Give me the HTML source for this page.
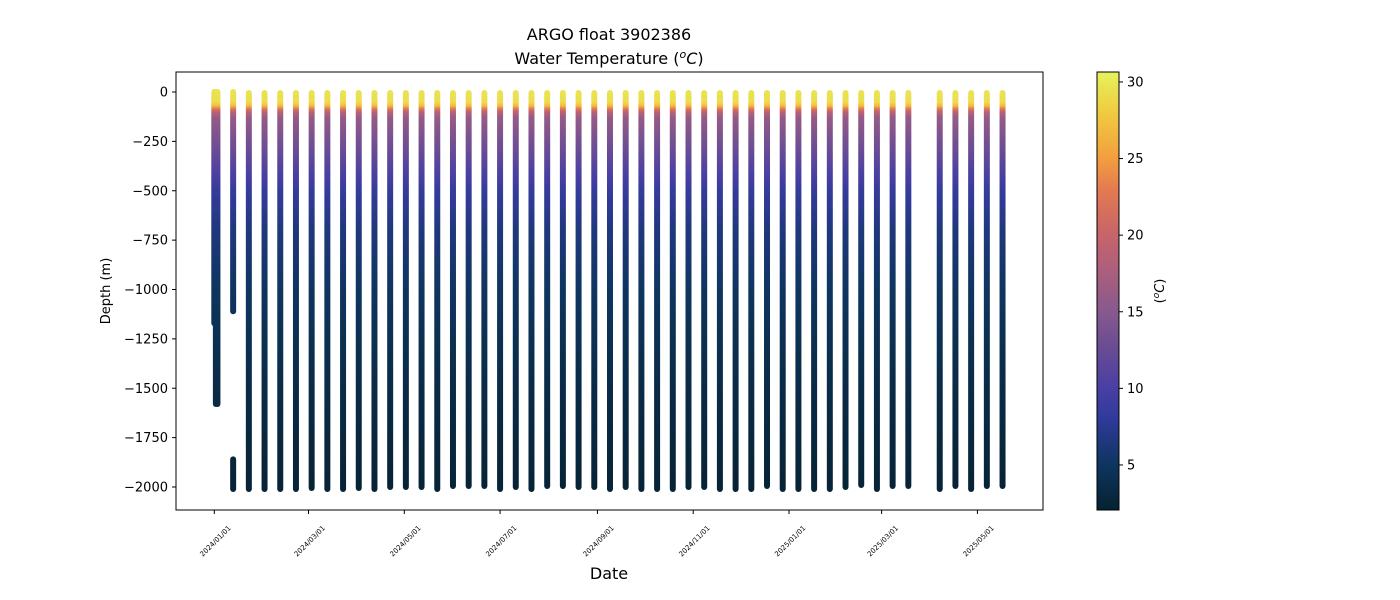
<!DOCTYPE html>
<html><head><meta charset="utf-8"><style>
body{margin:0;background:#fff;}
svg{display:block;font-family:"DejaVu Sans","Liberation Sans",sans-serif;}
</style></head><body>
<svg id="chart" width="1400" height="600" viewBox="0 0 1400 600">
<defs id="defs"></defs>
<text x="609" y="40" text-anchor="middle" font-size="16">ARGO float 3902386</text>
<text x="609" y="64" text-anchor="middle" font-size="16">Water Temperature (<tspan font-style="italic" dy="-6" font-size="11">o</tspan><tspan font-style="italic" dy="6">C</tspan>)</text>
<g id="marks"></g>
<rect x="176" y="72" width="867" height="438" fill="none" stroke="#000" stroke-width="1"/>
<g id="yaxis"></g>
<g id="xaxis"></g>
<text x="609" y="579" text-anchor="middle" font-size="16">Date</text>
<text transform="translate(110,291) rotate(-90)" text-anchor="middle" font-size="13">Depth (m)</text>
<rect x="1097" y="72" width="22" height="438" fill="url(#cbgrad)" stroke="#000" stroke-width="1"/>
<g id="cbaxis"></g>
<text transform="translate(1164,291) rotate(-90)" text-anchor="middle" font-size="13">(<tspan font-style="italic" dy="-5" font-size="9">o</tspan><tspan font-style="italic" dy="5">C</tspan>)</text>
</svg>
<script>
const profileDates = ["2024-01-01","2024-01-02","2024-01-03","2024-01-13","2024-01-13","2024-01-23","2024-02-02","2024-02-12","2024-02-22","2024-03-03","2024-03-13","2024-03-23","2024-04-02","2024-04-12","2024-04-22","2024-05-02","2024-05-12","2024-05-22","2024-06-01","2024-06-11","2024-06-21","2024-07-01","2024-07-11","2024-07-21","2024-07-31","2024-08-10","2024-08-20","2024-08-30","2024-09-09","2024-09-19","2024-09-29","2024-10-09","2024-10-19","2024-10-29","2024-11-08","2024-11-18","2024-11-28","2024-12-08","2024-12-18","2024-12-28","2025-01-07","2025-01-17","2025-01-27","2025-02-06","2025-02-16","2025-02-26","2025-03-08","2025-03-18","2025-04-07","2025-04-17","2025-04-27","2025-05-07","2025-05-17"];
const profileTop = [0,0,0,0,-1860,-5,-5,-5,-5,-5,-5,-5,-5,-5,-5,-5,-5,-5,-5,-5,-5,-5,-5,-5,-5,-5,-5,-5,-5,-5,-5,-5,-5,-5,-5,-5,-5,-5,-5,-5,-5,-5,-5,-5,-5,-5,-5,-5,-5,-5,-5,-5,-5];
const profileBottom = [-1170,-1580,-1580,-1110,-2010,-2010,-2010,-2010,-2010,-2005,-2010,-2010,-2005,-2010,-2000,-2000,-2000,-2010,-1995,-1995,-1995,-2010,-2000,-2010,-1995,-1995,-2000,-2000,-2010,-2000,-2010,-2010,-2010,-2000,-2000,-2010,-2010,-2010,-1995,-2010,-2010,-2010,-2010,-2000,-1990,-2010,-1995,-1995,-2010,-1995,-2010,-1995,-1995];
const tempDepths = [0,50,70,85,100,130,250,400,500,700,1000,1300,1600,2000];
const tempValues = [29.6,29.2,27,23,19,16,13.5,10.5,8.5,6.5,5,4,3.2,2.4];
const yTicks = [0,-250,-500,-750,-1000,-1250,-1500,-1750,-2000];
const xTicks = ["2024/01/01","2024/03/01","2024/05/01","2024/07/01","2024/09/01","2024/11/01","2025/01/01","2025/03/01","2025/05/01"];
const cbTicks = [5,10,15,20,25,30];
const cmapT = [2.06,5,8,10,13,15,18,20,23,25,28,30.65];
const cmapC = ["#062231","#0e355f","#2f3a9a","#4a3fa3","#6e4d92","#88598e","#b0607a","#c6646a","#e47a50","#f29e3e","#f0cb40","#e6f25c"];

const NS="http://www.w3.org/2000/svg";
function mk(t,a,p){const e=document.createElementNS(NS,t);for(const k in a)e.setAttribute(k,a[k]);p.appendChild(e);return e;}
const d0=Date.UTC(2024,0,1);
function xs(s){const p=s.split(/[-\/]/).map(Number);const d=(Date.UTC(p[0],p[1]-1,p[2])-d0)/86400000;return 214.3+d*1.5702;}
function ys(v){return 92+(-v)*0.1975;}
function cbY(t){return 510-(t-2.06)/(30.65-2.06)*438;}
function hex(h){return[1,3,5].map(i=>parseInt(h.substr(i,2),16));}
function cmap(t){t=Math.max(cmapT[0],Math.min(cmapT[cmapT.length-1],t));for(let i=0;i<cmapT.length-1;i++){if(t<=cmapT[i+1]){const f=(t-cmapT[i])/(cmapT[i+1]-cmapT[i]);const a=hex(cmapC[i]),b=hex(cmapC[i+1]);return"rgb("+a.map((v,j)=>Math.round(v+(b[j]-v)*f)).join(",")+")";}}return cmapC[cmapC.length-1];}
const defs=document.getElementById('defs');
const g=mk('linearGradient',{id:'depthgrad',gradientUnits:'userSpaceOnUse',x1:0,x2:0,y1:ys(0),y2:ys(-2000)},defs);
tempDepths.forEach((d,i)=>mk('stop',{offset:d/2000,'stop-color':cmap(tempValues[i])},g));
const cg=mk('linearGradient',{id:'cbgrad',x1:0,x2:0,y1:1,y2:0},defs);
for(let i=0;i<cmapT.length;i++)mk('stop',{offset:(cmapT[i]-cmapT[0])/(cmapT[cmapT.length-1]-cmapT[0]),'stop-color':cmapC[i]},cg);
const marks=document.getElementById('marks');
profileDates.forEach((d,i)=>{
  const x=xs(d);
  const l=mk('line',{x1:x,x2:x,y1:ys(profileTop[i])+0.01,y2:ys(profileBottom[i]),stroke:'url(#depthgrad)','stroke-width':6,'stroke-linecap':'round'},marks);
  
  
});
const ya=document.getElementById('yaxis');
yTicks.forEach(v=>{const y=ys(v);mk('line',{x1:172,x2:176,y1:y,y2:y,stroke:'#000'},ya);
  const t=mk('text',{x:168,y:y+4.5,'text-anchor':'end','font-size':13},ya);t.textContent=v===0?'0':'\u2212'+(-v);
  
  });
const xa=document.getElementById('xaxis');
xTicks.forEach(s=>{const x=xs(s);mk('line',{x1:x,x2:x,y1:510,y2:514,stroke:'#000'},xa);
  const t=mk('text',{transform:'translate('+(x+1)+',541) rotate(-45)','text-anchor':'middle',dy:'2.5','font-size':7},xa);t.textContent=s;
  
  });
const ca=document.getElementById('cbaxis');
cbTicks.forEach(v=>{const y=cbY(v);mk('line',{x1:1119,x2:1123,y1:y,y2:y,stroke:'#000'},ca);
  const t=mk('text',{x:1127,y:y+4.5,'font-size':13},ca);t.textContent=v;
  
  });
</script>
</body></html>
